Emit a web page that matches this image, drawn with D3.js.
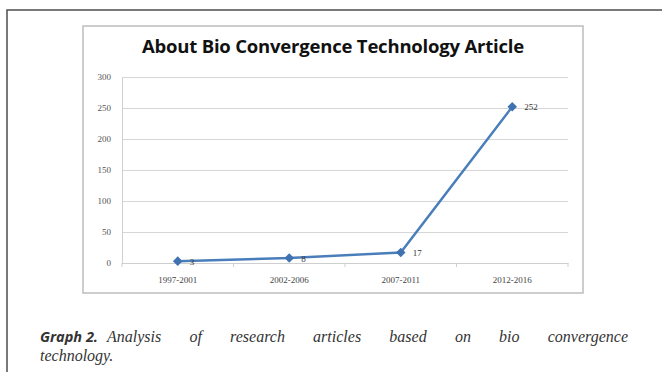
<!DOCTYPE html>
<html>
<head>
<meta charset="utf-8">
<script src="https://cdn.jsdelivr.net/npm/d3@7"></script>
<style>
  html, body { margin: 0; padding: 0; background: #fff; }
  svg { display: block; }
</style>
</head>
<body>
<svg id="chart" width="662" height="372"></svg>
<script>
// Article counts per five-year period
const categories = ["1997-2001", "2002-2006", "2007-2011", "2012-2016"];
const articles = [3, 8, 17, 252];
const yTicks = [0, 50, 100, 150, 200, 250, 300];
const chartTitle = "About Bio Convergence Technology Article";
const captionLead = "Graph 2.";
const captionLine1 = "Analysis of research articles based on bio convergence";
const captionLine2 = "technology.";

const svg = d3.select("#chart");

// Outer figure frame (top and left rules)
svg.append("path")
  .attr("d", "M7,372 V10 H662")
  .attr("fill", "none")
  .attr("stroke", "#4d4d4d")
  .attr("stroke-width", 1.5);

// Chart box
svg.append("rect")
  .attr("x", 83).attr("y", 26)
  .attr("width", 500).attr("height", 267)
  .attr("fill", "#fff")
  .attr("stroke", "#bdbdbd")
  .attr("stroke-width", 1.5);

svg.append("text")
  .attr("x", 333).attr("y", 53)
  .attr("text-anchor", "middle")
  .attr("font-family", "'Open Sans', sans-serif")
  .attr("font-weight", 700)
  .attr("font-size", 18.5)
  .attr("letter-spacing", -0.2)
  .attr("fill", "#111")
  .text(chartTitle);

const plot = { left: 122, right: 568, top: 77, bottom: 263 };

const x = d3.scaleBand().domain(categories).range([plot.left, plot.right]);
const y = d3.scaleLinear().domain([0, 300]).range([plot.bottom, plot.top]);

// Horizontal gridlines
const grid = svg.append("g")
  .attr("transform", `translate(${plot.left},0)`)
  .call(d3.axisLeft(y).tickValues(yTicks).tickSize(-(plot.right - plot.left)).tickFormat(""));
grid.select(".domain").remove();
grid.selectAll(".tick line").attr("stroke", "#d6d6d6").attr("stroke-width", 1.2);

// Y axis labels and spine
const yAxis = svg.append("g")
  .attr("transform", `translate(${plot.left},0)`)
  .call(d3.axisLeft(y).tickValues(yTicks).tickSize(0).tickPadding(11));
yAxis.select(".domain").attr("stroke", "#d0d0d0");
yAxis.selectAll("text")
  .attr("font-family", "'Liberation Serif', serif")
  .attr("font-size", 9)
  .attr("fill", "#555");

// X axis with boundary tick marks between categories
const xAxis = svg.append("g")
  .attr("transform", `translate(0,${plot.bottom})`)
  .call(d3.axisBottom(x).tickSize(0).tickPadding(14));
xAxis.select(".domain").attr("stroke", "#cfcfcf").attr("stroke-width", 1.2);
xAxis.selectAll("text")
  .attr("font-family", "'Liberation Serif', serif")
  .attr("font-size", 9)
  .attr("fill", "#444");
const bounds = categories.map(c => x(c)).concat([x.range()[1]]);
xAxis.selectAll(".bound")
  .data(bounds)
  .join("line")
  .attr("class", "bound")
  .attr("x1", d => d).attr("x2", d => d)
  .attr("y1", 0).attr("y2", 4)
  .attr("stroke", "#cfcfcf");

// Data line and diamond markers
const pts = categories.map((c, i) => ({ cat: c, v: articles[i] }));
const cx = d => x(d.cat) + x.bandwidth() / 2;

svg.append("path")
  .datum(pts)
  .attr("fill", "none")
  .attr("stroke", "#4a7ebb")
  .attr("stroke-width", 2.5)
  .attr("d", d3.line().x(cx).y(d => y(d.v)));

svg.selectAll(".marker")
  .data(pts)
  .join("path")
  .attr("class", "marker")
  .attr("transform", d => `translate(${cx(d)},${y(d.v)}) rotate(45)`)
  .attr("d", d3.symbol(d3.symbolSquare, 46)())
  .attr("fill", "#3f72b0");

// Value labels to the right of each point
svg.selectAll(".val")
  .data(pts)
  .join("text")
  .attr("class", "val")
  .attr("x", d => cx(d) + 12)
  .attr("y", d => y(d.v) + 3.5)
  .attr("font-family", "'Liberation Serif', serif")
  .attr("font-size", 9)
  .attr("fill", "#333")
  .text(d => d.v);

// Caption below the chart
const capFont = "'Liberation Serif', serif";
const lead = svg.append("text")
  .attr("x", 40).attr("y", 342)
  .attr("font-family", "'Open Sans', sans-serif")
  .attr("font-style", "italic")
  .attr("font-weight", 700)
  .attr("font-size", 14.5)
  .attr("fill", "#333")
  .text(captionLead);
const leadEnd = 40 + lead.node().getComputedTextLength();

const l1 = svg.append("text")
  .attr("x", leadEnd + 9).attr("y", 342)
  .attr("font-family", capFont)
  .attr("font-style", "italic")
  .attr("font-size", 16)
  .attr("fill", "#333")
  .text(captionLine1);
// justify first line to the right margin
const natural = l1.node().getComputedTextLength();
const gaps = captionLine1.split(" ").length - 1;
l1.style("word-spacing", ((628 - (leadEnd + 9) - natural) / gaps) + "px");

svg.append("text")
  .attr("x", 40).attr("y", 361)
  .attr("font-family", capFont)
  .attr("font-style", "italic")
  .attr("font-size", 16)
  .attr("fill", "#333")
  .text(captionLine2);
</script>
</body>
</html>
